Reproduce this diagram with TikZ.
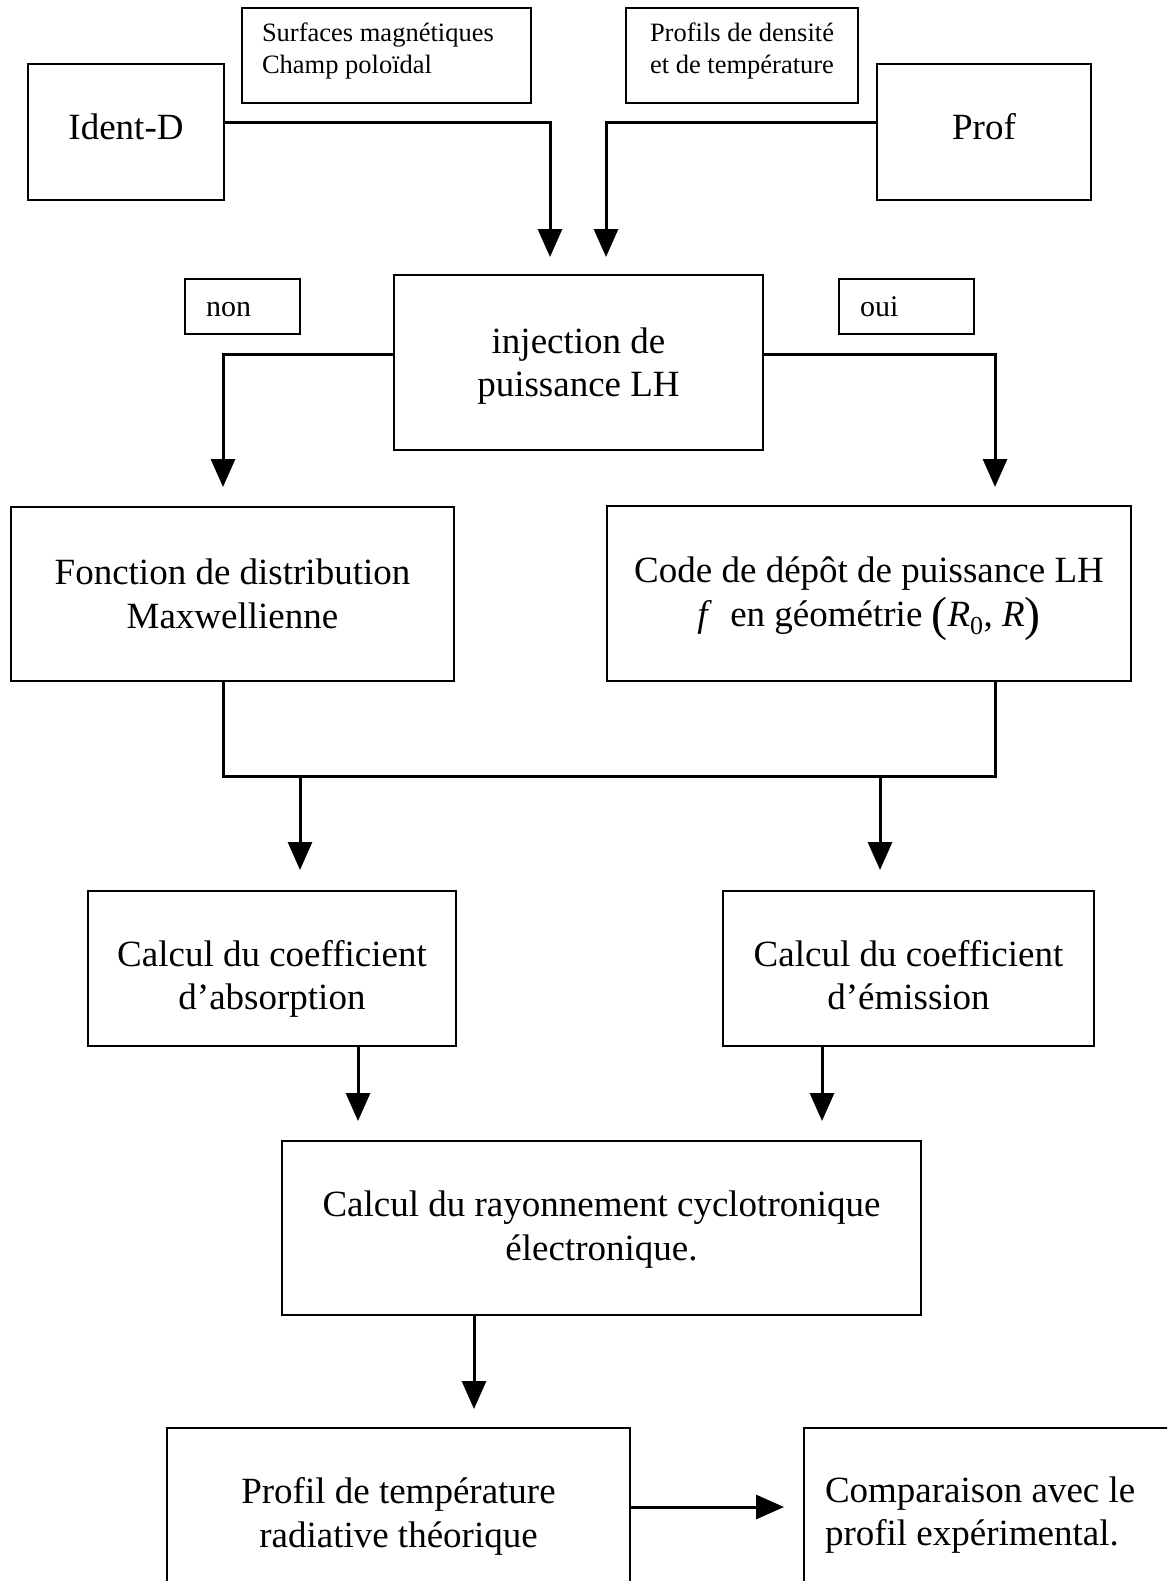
\documentclass[tikz,border=0pt]{standalone}
\usepackage{fontspec}
\setmainfont{Liberation Serif}
\usetikzlibrary{arrows.meta}
\tikzstyle{chart}=[x=1pt, y=-1pt, >={Triangle[width=24pt,length=28pt]}]
\tikzstyle{block}=[draw, line width=2.4pt, align=center, inner sep=0pt, font=\fontsize{37}{43.5}\selectfont]
\tikzstyle{tag}=[draw, line width=1.6pt, inner sep=0pt, font=\fontsize{26.5}{32}\selectfont]
\tikzstyle{choice}=[draw, line width=1.6pt, inner ysep=0pt, inner xsep=21pt, align=flush left, font=\fontsize{30}{36}\selectfont]
\tikzstyle{flow}=[->, line width=3pt]
\tikzstyle{wire}=[line width=3pt]
% fixed text boxes so the baselines sit where wanted
\tikzstyle{drop}=[text height=0pt, text depth=#1]   % text width: first line is the base
\tikzstyle{lift}=[text height=#1, text depth=0pt]   % plain align: last line is the base
\newcommand{\bigparen}[1]{\raisebox{-0.12em}{\fontsize{48}{48}\selectfont #1}}

\begin{document}
\begin{tikzpicture}[chart]
  \fill[white] (0,0) rectangle (1167,1581);
  \useasboundingbox (0,0) rectangle (1167,1581);
  \clip (0,0) rectangle (1167,1581);

  % sources
  \node[block, minimum width=196pt, minimum height=136pt, lift=15pt] (identd) at (126,132) {Ident-D};
  \node[block, minimum width=214pt, minimum height=136pt, lift=15pt] (prof) at (984,132) {Prof};
  \node[tag, minimum width=289pt, minimum height=95pt, text width=249pt, align=flush left, drop=27.6pt] (surf) at (386.5,55.5)
    {Surfaces magnétiques\\Champ poloïdal};
  \node[tag, minimum width=232pt, minimum height=95pt, align=center, lift=36.4pt] (dens) at (742,55.5)
    {Profils de densité\\et de température};

  % choice on the LH power
  \node[block, minimum width=369pt, minimum height=175pt, lift=68.8pt] (inj) at (578.5,362.5) {injection de\\puissance LH};
  \node[choice, minimum width=115pt, minimum height=55pt, text width=73pt, lift=20pt] (non) at (242.5,306.5) {non};
  \node[choice, minimum width=135pt, minimum height=55pt, text width=93pt, lift=20pt] (oui) at (906.5,306.5) {oui};

  \node[block, minimum width=443pt, minimum height=174pt, lift=68pt] (fonc) at (232.5,594) {Fonction de distribution\\Maxwellienne};
  \node[block, minimum width=524pt, minimum height=175pt, lift=65.2pt] (code) at (869,593.5)
    {Code de dépôt de puissance LH\\\textit{f}~ en géométrie \bigparen{(}\textit{R}\textsubscript{0}, \textit{R}\bigparen{)}};

  \node[block, minimum width=368pt, minimum height=155pt, lift=82.8pt] (absorp) at (272,968.5) {Calcul du coefficient\\d’absorption};
  \node[block, minimum width=371pt, minimum height=155pt, lift=82.8pt] (emis) at (908.5,968.5) {Calcul du coefficient\\d’émission};

  \node[block, minimum width=639pt, minimum height=174pt, lift=64pt] (rayon) at (601.5,1228)
    {Calcul du rayonnement cyclotronique\\électronique.};

  \node[block, minimum width=463pt, minimum height=172pt, lift=66.8pt] (ptheo) at (398.5,1514)
    {Profil de température\\radiative théorique};
  \node[block, minimum width=446pt, minimum height=172pt, inner xsep=21pt, text width=404pt, align=flush left, drop=24pt] (compar) at (1027,1514)
    {Comparaison avec le\\profil expérimental.};

  % arrow ends
  \coordinate (inA) at (550,257);
  \coordinate (inB) at (606,257);
  \coordinate (noA) at (223,487);
  \coordinate (ouiA) at (995,487);
  \coordinate (jl) at (223,776);
  \coordinate (jr) at (995,776);
  \coordinate (absA) at (300,870);
  \coordinate (emisA) at (880,870);
  \coordinate (rayA) at (358,1121);
  \coordinate (rayB) at (822,1121);
  \coordinate (ptA) at (474,1409);
  \coordinate (cmpA) at (784,1507);

  \draw[flow] ([yshift=9pt]identd.east) -| (inA);
  \draw[flow] ([yshift=9pt]prof.west) -| (inB);
  \draw[flow] ([yshift=8pt]inj.west) -| (noA);
  \draw[flow] ([yshift=8pt]inj.east) -| (ouiA);
  \draw[wire] (fonc.south -| jl) -- (jl) -- (jr) -- (code.south -| jr);
  \draw[flow] (jl -| absA) -- (absA);
  \draw[flow] (jr -| emisA) -- (emisA);
  \draw[flow] (absorp.south -| rayA) -- (rayA);
  \draw[flow] (emis.south -| rayB) -- (rayB);
  \draw[flow] (rayon.south -| ptA) -- (ptA);
  \draw[flow] (ptheo.east |- cmpA) -- (cmpA);
\end{tikzpicture}
\end{document}
